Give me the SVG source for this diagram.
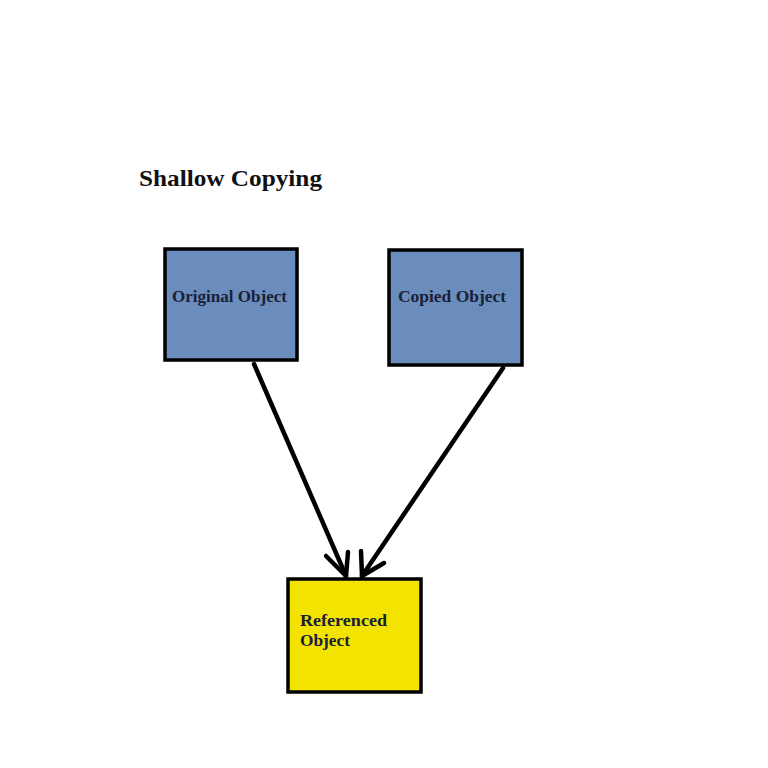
<svg xmlns="http://www.w3.org/2000/svg" width="768" height="768" viewBox="0 0 768 768">
<style>
.box{stroke:#000;stroke-width:3.5}
.blue{fill:#6b8dbd}
.yellow{fill:#f2e300}
.lbl{font-family:"Liberation Serif","DejaVu Serif",serif;font-weight:bold;font-size:16.5px;fill:#1a2035}
.conn{fill:none;stroke:#000;stroke-width:4.5;stroke-linecap:round;stroke-linejoin:round}
</style>
<rect width="768" height="768" fill="#fff"/>
<text x="139" y="186" class="lbl" style="font-size:24px;fill:#111" textLength="183" lengthAdjust="spacingAndGlyphs">Shallow Copying</text>
<g id="original">
<rect class="box blue" x="165" y="249" width="132" height="111"/>
<text class="lbl" x="172" y="302" textLength="115" lengthAdjust="spacingAndGlyphs">Original Object</text>
</g>
<g id="copied">
<rect class="box blue" x="389" y="250" width="133" height="115"/>
<text class="lbl" x="398" y="302" textLength="108" lengthAdjust="spacingAndGlyphs">Copied Object</text>
</g>
<g id="referenced">
<rect class="box yellow" x="288" y="579" width="133" height="113"/>
<text class="lbl" x="300" y="626" textLength="87" lengthAdjust="spacingAndGlyphs">Referenced</text>
<text class="lbl" x="300" y="646" textLength="50" lengthAdjust="spacingAndGlyphs">Object</text>
</g>
<g id="connectors">
<path class="conn" d="M254 364 Q300 470 346 576"/>
<path class="conn" d="M326 556 L346 576 L348 552"/>
<path class="conn" d="M503 368 Q432 472 362 576"/>
<path class="conn" d="M361 551 L362 576 L384 563"/>
</g>
</svg>
